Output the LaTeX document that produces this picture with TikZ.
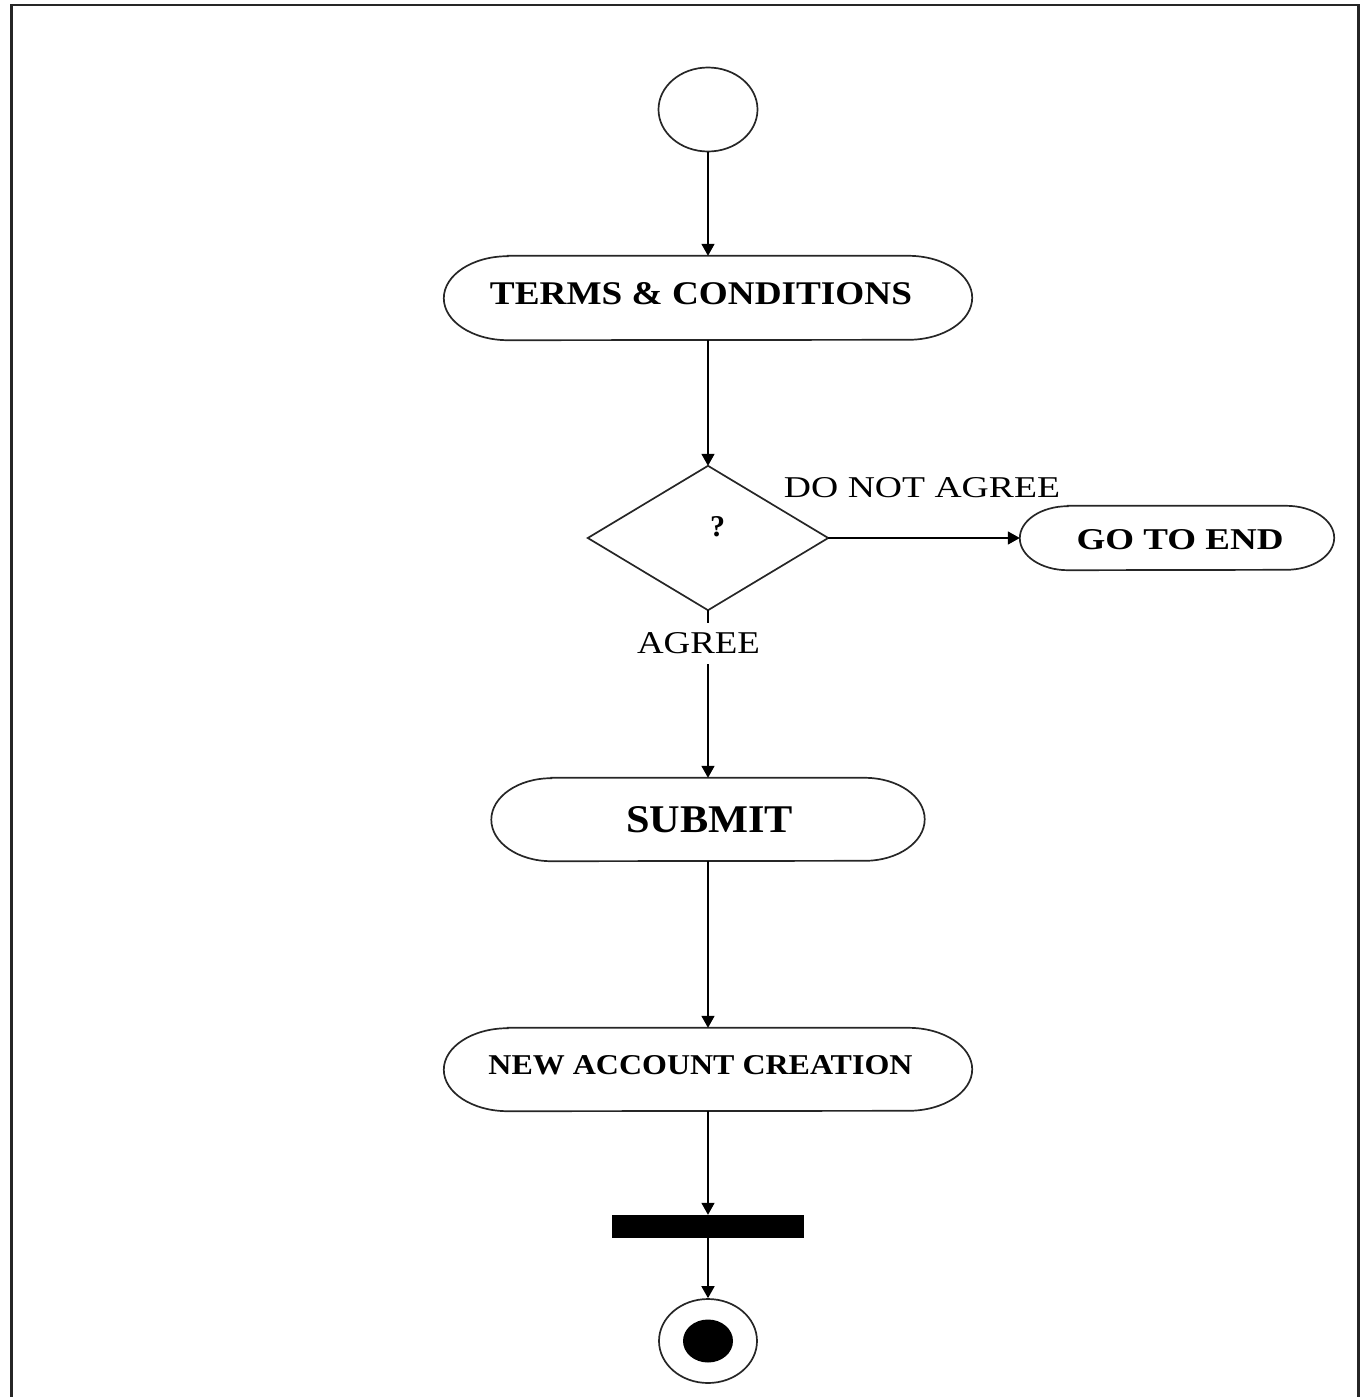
\documentclass[tikz,border=0pt]{standalone}
\usepackage{fontspec}
\setmainfont{Liberation Serif}
\usepackage{graphicx}
\usetikzlibrary{arrows.meta,shapes.geometric}
\newcommand\stad[3]{%
  \draw[shapeline] ([xshift=#2]#1.north west) -- ([xshift=-#2]#1.north east)
    arc[start angle=90,end angle=-90,x radius=#2,y radius=#3]
    -- ([xshift=#2]#1.south west)
    arc[start angle=270,end angle=90,x radius=#2,y radius=#3] -- cycle;}
\tikzset{
  shapeline/.style={draw=black!85, line width=1.7pt},
  boxnode/.style={draw=none, inner sep=0pt, rectangle},
  txt/.style={inner sep=0pt, text=black},
  arr/.style={line width=1.6pt, -{Triangle[length=12pt,width=13pt]}},
}
\begin{document}
\begin{tikzpicture}[x=1pt,y=-1pt]
\useasboundingbox (0,0) rectangle (1364,1397);
% frame (bottom edge out of view)
\draw[line width=2.5pt, black!85] (11.5,1397) -- (11.5,5) -- (1358.5,5) -- (1358.5,1397);

% start
\node[ellipse, shapeline, minimum width=99pt, minimum height=84pt, inner sep=0pt] (start) at (708,109.5) {};

% terms
\node[boxnode, minimum width=528pt, minimum height=84pt] (terms) at (708,298) {};
\stad{terms}{64pt}{42pt}
\node[txt] (tterms) at (701,294) {\resizebox{422pt}{22pt}{\bfseries TERMS \& CONDITIONS}};

% decision
\node[boxnode, minimum width=240pt, minimum height=144pt] (dec) at (708,538) {};
\draw[shapeline] (dec.north) -- (dec.east) -- (dec.south) -- (dec.west) -- cycle;
\node[txt] (q) at (717.5,527) {\resizebox{15pt}{20pt}{\bfseries ?}};

% go to end
\node[boxnode, minimum width=314pt, minimum height=64pt] (goend) at (1177,538) {};
\stad{goend}{48pt}{32pt}
\node[txt] (tgoend) at (1180,540) {\resizebox{207pt}{20pt}{\bfseries GO TO END}};

% submit
\node[boxnode, minimum width=433pt, minimum height=83pt] (submit) at (708,819.5) {};
\stad{submit}{60pt}{41.5pt}
\node[txt] (tsubmit) at (709.5,820) {\resizebox{167pt}{26pt}{\bfseries SUBMIT}};

% new account creation
\node[boxnode, minimum width=528pt, minimum height=83pt] (nac) at (708,1069.5) {};
\stad{nac}{64pt}{41.5pt}
\node[txt] (tnac) at (700.5,1065) {\resizebox{424pt}{19pt}{\bfseries NEW ACCOUNT CREATION}};

% bar
\node[fill=black, draw=none, minimum width=192pt, minimum height=23pt, inner sep=0pt] (bar) at (708,1226.5) {};

% end
\node[ellipse, shapeline, minimum width=98pt, minimum height=84pt, inner sep=0pt] (endc) at (708,1341) {};
\node[ellipse, fill=black, draw=none, minimum width=50pt, minimum height=43pt, inner sep=0pt] (endin) at (708,1341) {};

% connectors
\draw[arr] (start.south) -- (terms.north);
\draw[arr] (terms.south) -- (dec.north);
\draw[arr] (dec.east) -- (goend.west);
\draw[arr] (dec.south) -- (submit.north);
\draw[arr] (submit.south) -- (nac.north);
\draw[arr] (nac.south) -- (bar.north);
\draw[arr] (bar.south) -- (endc.north);

% labels
\node[txt] (lnot) at (922,488) {\resizebox{276pt}{20pt}{DO NOT AGREE}};
\node[txt, fill=white, inner xsep=2pt, inner ysep=10pt] (lagree) at (698.5,643.5) {\resizebox{123pt}{21pt}{AGREE}};
\end{tikzpicture}
\end{document}
